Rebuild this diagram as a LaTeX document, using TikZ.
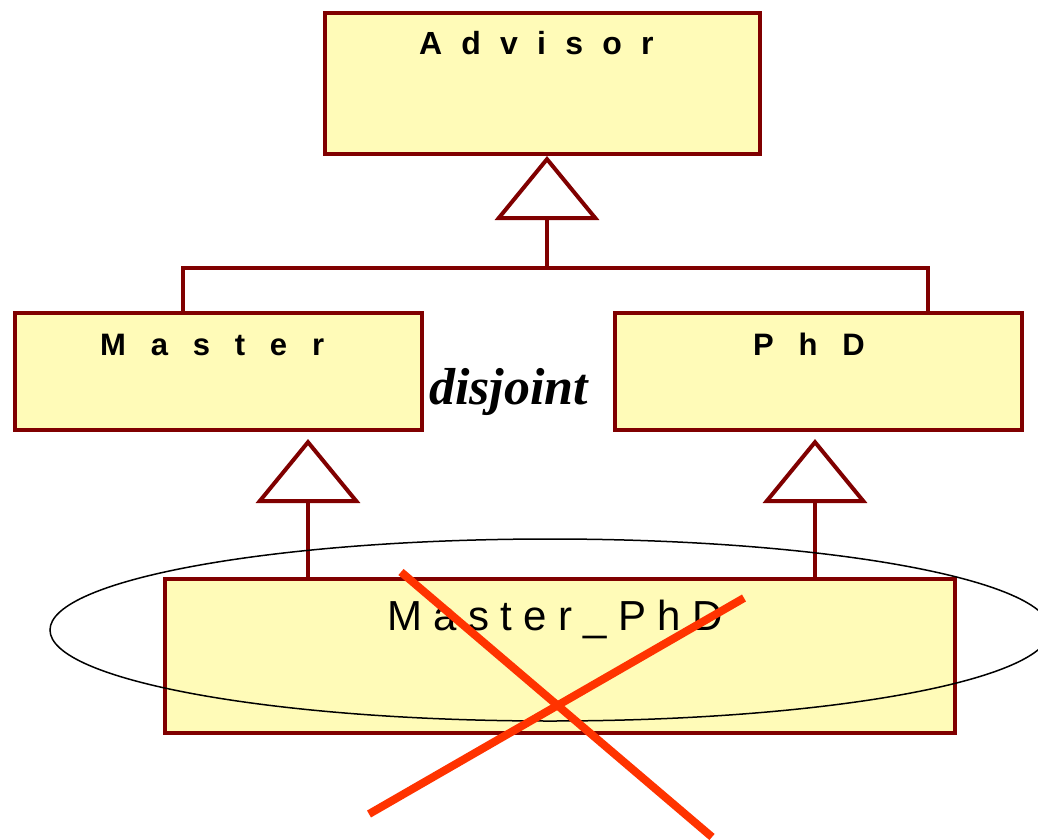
\documentclass[tikz,border=0pt]{standalone}
\usepackage{fontspec}
\setmainfont{Liberation Serif}
\newfontfamily\umlfont{Liberation Sans}
\usetikzlibrary{arrows.meta}

\definecolor{clsfill}{HTML}{FFFBB8}
\definecolor{clsline}{HTML}{800000}
\definecolor{crossred}{HTML}{FF3300}

\begin{document}
\begin{tikzpicture}[x=1pt,y=-1pt,
  cls/.style={draw=clsline, fill=clsfill, line width=4pt, inner sep=0pt},
  link/.style={draw=clsline, line width=4pt},
  gen/.style={link, -{Triangle[open, length=64pt, width=104pt]}},
  clsname/.style={anchor=base west, inner sep=0pt, font=\umlfont\bfseries\fontsize{31}{36}\selectfont},
  cross/.style={draw=crossred, line width=8pt}
]
\clip (0,0) rectangle (1038,840);
\fill[white] (0,0) rectangle (1038,840);

% class boxes
\node[cls, minimum width=435pt, minimum height=141pt] (advisor) at (542.5,83.5) {};
\node[cls, minimum width=407pt, minimum height=117pt] (master) at (218.5,371.5) {};
\node[cls, minimum width=407pt, minimum height=117pt] (phd) at (818.5,371.5) {};
\node[cls, minimum width=790pt, minimum height=154pt] (mp) at (560,655.5) {};

% class names
\node[clsname, font=\umlfont\bfseries\fontsize{32}{36}\selectfont] (advisorname) at (419,55) {\addfontfeature{LetterSpace=60}Advisor};
\node[clsname] (mastername) at (100,355) {\addfontfeature{LetterSpace=80}Master};
\node[clsname] (phdname) at (753,355) {\addfontfeature{LetterSpace=80}PhD};
\node[anchor=base west, inner sep=0pt, font=\umlfont\fontsize{42}{48}\selectfont] (mpname) at (387,630) {\addfontfeature{LetterSpace=27}Master\_PhD};

% disjoint generalization set
\coordinate (hub) at (547,268);
\draw[link] ([xshift=-35.5pt]master.north) |- (hub) -| ([xshift=109.5pt]phd.north);
\draw[gen] (hub) -- (advisor.south -| hub);
\node[anchor=base west, inner sep=0pt, font=\fontsize{52}{60}\selectfont\bfseries\itshape] (disjoint) at (429,404) {disjoint};

% multiple inheritance of Master_PhD
\draw[gen, shorten >=7pt] ([xshift=-252pt]mp.north) -- ([xshift=89.5pt]master.south);
\draw[gen, shorten >=7pt] ([xshift=255pt]mp.north) -- ([xshift=-3.5pt]phd.south);

% highlight and strike-through
\draw[line width=1.5pt] (550,630) ellipse [x radius=500, y radius=91];
\draw[cross] (401,572) -- (712,837);
\draw[cross] (744,598) -- (369,814);
\end{tikzpicture}
\end{document}
